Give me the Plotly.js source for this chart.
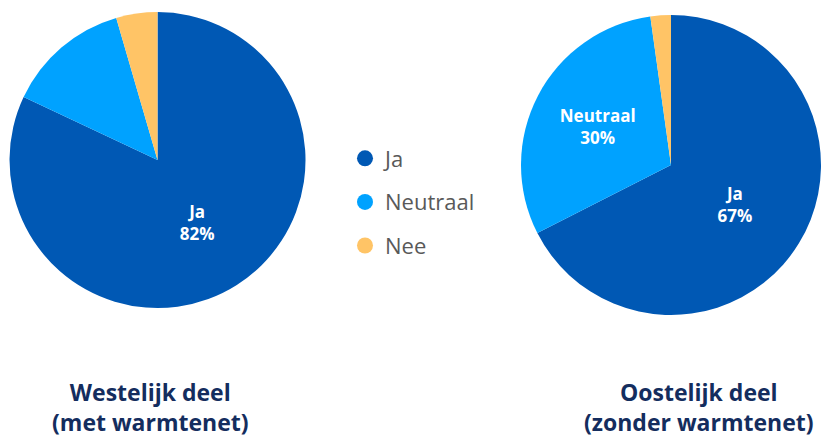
<!DOCTYPE html>
<html>
<head>
<meta charset="utf-8">
<script src="https://cdn.plot.ly/plotly-3.0.1.min.js"></script>
<style>html,body{margin:0;padding:0;background:#fff;}#chart{width:822px;height:440px;}</style>
</head>
<body>
<div id="chart"></div>
<script>
const categories = ['Ja', 'Neutraal', 'Nee'];
const westValues = [82, 13.5, 4.5];
const oostValues = [67.5, 30.3, 2.2];
const westText = ['Ja<br>82%', '', ''];
const oostText = ['Ja<br>67%', 'Neutraal<br>30%', ''];
const westTitle = 'Westelijk deel<br>(met warmtenet)';
const oostTitle = 'Oostelijk deel<br>(zonder warmtenet)';
const colors = ['#0058B4', '#00A2FF', '#FFC466'];

const pieCommon = {
  type: 'pie',
  labels: categories,
  sort: false,
  direction: 'clockwise',
  rotation: 0,
  textinfo: 'text',
  textposition: 'inside',
  insidetextorientation: 'horizontal',
  insidetextfont: {family: 'Open Sans, sans-serif', size: 17, color: '#ffffff', weight: 'bold'},
  marker: {colors: colors, line: {width: 0}},
  hoverinfo: 'label+percent',
  showlegend: false
};

const traces = [
  Object.assign({}, pieCommon, {
    values: westValues, text: westText,
    domain: {x: [0.01156, 0.3717], y: [0.30, 0.9727]}
  }),
  Object.assign({}, pieCommon, {
    values: oostValues, text: oostText,
    domain: {x: [0.6338, 0.9988], y: [0.2841, 0.9659]}
  })
];

categories.forEach((c, i) => {
  traces.push({
    type: 'scatter', mode: 'markers', x: [null], y: [null], name: c,
    legendgroup: 'g' + i,
    marker: {symbol: 'circle', size: 17, color: colors[i]},
    showlegend: true, hoverinfo: 'skip'
  });
});

const titleFont = {family: 'Open Sans, sans-serif', size: 23, color: '#142D5E', weight: 'bold'};

const layout = {
  width: 822, height: 440,
  margin: {l: 0, r: 0, t: 0, b: 0},
  paper_bgcolor: '#ffffff', plot_bgcolor: '#ffffff',
  xaxis: {visible: false}, yaxis: {visible: false},
  showlegend: true,
  legend: {
    x: 345 / 822, y: 0.6875, xanchor: 'left', yanchor: 'top',
    font: {family: 'Open Sans, sans-serif', size: 22, color: '#595959'},
    tracegroupgap: 12, itemwidth: 30, bgcolor: 'rgba(0,0,0,0)'
  },
  annotations: [
    {text: westTitle, x: 150.5 / 822, y: 1 - 407 / 440, xref: 'paper', yref: 'paper',
     xanchor: 'center', yanchor: 'middle',
     showarrow: false, align: 'center', font: titleFont},
    {text: oostTitle, x: 699 / 822, y: 1 - 407 / 440, xref: 'paper', yref: 'paper',
     xanchor: 'center', yanchor: 'middle',
     showarrow: false, align: 'center', font: titleFont}
  ]
};

Plotly.newPlot('chart', traces, layout, {displayModeBar: false, staticPlot: true});
</script>
</body>
</html>
